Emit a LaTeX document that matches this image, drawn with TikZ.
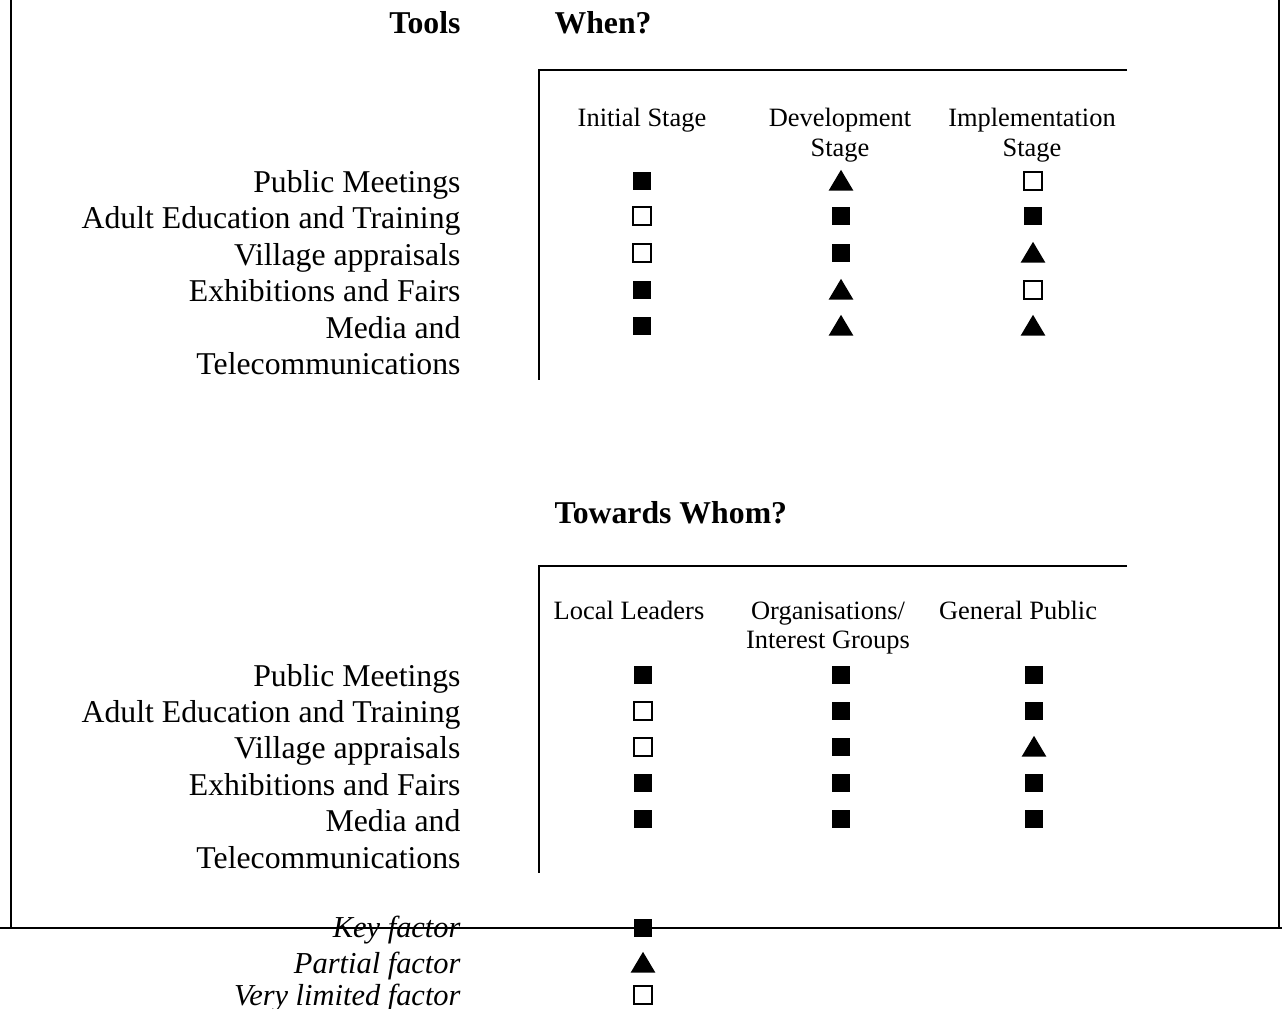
\documentclass[tikz,border=0pt]{standalone}
\usepackage{fontspec}
\setmainfont{Liberation Serif}
\usetikzlibrary{shapes.geometric}

\begin{document}
\begin{tikzpicture}[x=0.378pt, y=-0.378pt,
    partLabel/.style={anchor=east, inner sep=0pt, text height=8pt, text depth=2.6pt, font=\fontsize{12}{13.8}\selectfont},
    partTitle/.style={inner sep=0pt, font=\fontsize{12}{13.8}\selectfont\bfseries},
    partHead/.style={anchor=north, inner sep=0pt, align=center, font=\fontsize{10}{11.3}\selectfont},
    partKey/.style={partLabel, font=\fontsize{11.5}{13}\selectfont\itshape},
    partFull/.style={draw, fill=black, inner sep=0pt, minimum size=6.2pt},
    partLow/.style={draw, line width=0.8pt, inner sep=0pt, minimum size=6.6pt},
    partHalf/.style={isosceles triangle, isosceles triangle stretches, shape border rotate=90, fill=black, inner sep=0pt, minimum width=9.4pt, minimum height=7.9pt, yshift=-1pt},
    partLine/.style={line width=0.6pt}]

    \useasboundingbox (0,0) rectangle (1282,1008);

    % frame
    \draw[partLine] (11,0) -- (11,928);
    \draw[partLine] (1279,0) -- (1279,928);
    \draw[partLine] (0,928) -- (1282,928);

    % titles
    \node[partTitle, anchor=base east] (tools) at (461,33) {Tools};
    \node[partTitle, anchor=base west] (when) at (554,33) {When?};
    \node[partTitle, anchor=base west] (whom) at (554,523) {Towards Whom?};

    % upper table
    \draw[partLine] (1127,70) -- (539,70) -- (539,380);
    \node[partHead] (hInit) at (642,108) {Initial Stage};
    \node[partHead] (hDev) at (840,108) {Development\\Stage};
    \node[partHead] (hImpl) at (1032,108) {Implementation\\Stage};

    \node[partLabel] (uMeet) at (461,185) {Public Meetings};
    \node[partLabel] (uAdult) at (461,221) {Adult Education and Training};
    \node[partLabel] (uVill) at (461,258) {Village appraisals};
    \node[partLabel] (uExh) at (461,294) {Exhibitions and Fairs};
    \node[partLabel] (uMedia) at (461,331) {Media and};
    \node[partLabel] (uTele) at (461,367) {Telecommunications};

    \node[partFull] (u11) at (642,181) {};
    \node[partHalf] (u12) at (841,181) {};
    \node[partLow] (u13) at (1033,181) {};
    \node[partLow] (u21) at (642,216) {};
    \node[partFull] (u22) at (841,216) {};
    \node[partFull] (u23) at (1033,216) {};
    \node[partLow] (u31) at (642,253) {};
    \node[partFull] (u32) at (841,253) {};
    \node[partHalf] (u33) at (1033,253) {};
    \node[partFull] (u41) at (642,290) {};
    \node[partHalf] (u42) at (841,290) {};
    \node[partLow] (u43) at (1033,290) {};
    \node[partFull] (u51) at (642,326) {};
    \node[partHalf] (u52) at (841,326) {};
    \node[partHalf] (u53) at (1033,326) {};

    % lower table
    \draw[partLine] (1127,566) -- (539,566) -- (539,873);
    \node[partHead] (hLead) at (629,601) {Local Leaders};
    \node[partHead] (hOrg) at (828,601) {Organisations/\\Interest Groups};
    \node[partHead] (hGen) at (1018,601) {General Public};

    \node[partLabel] (lMeet) at (461,679) {Public Meetings};
    \node[partLabel] (lAdult) at (461,715) {Adult Education and Training};
    \node[partLabel] (lVill) at (461,751) {Village appraisals};
    \node[partLabel] (lExh) at (461,788) {Exhibitions and Fairs};
    \node[partLabel] (lMedia) at (461,824) {Media and};
    \node[partLabel] (lTele) at (461,861) {Telecommunications};

    \node[partFull] (l11) at (643,675) {};
    \node[partFull] (l12) at (841,675) {};
    \node[partFull] (l13) at (1034,675) {};
    \node[partLow] (l21) at (643,711) {};
    \node[partFull] (l22) at (841,711) {};
    \node[partFull] (l23) at (1034,711) {};
    \node[partLow] (l31) at (643,747) {};
    \node[partFull] (l32) at (841,747) {};
    \node[partHalf] (l33) at (1034,747) {};
    \node[partFull] (l41) at (643,783) {};
    \node[partFull] (l42) at (841,783) {};
    \node[partFull] (l43) at (1034,783) {};
    \node[partFull] (l51) at (643,819) {};
    \node[partFull] (l52) at (841,819) {};
    \node[partFull] (l53) at (1034,819) {};

    % key
    \node[partKey] (kFull) at (461,930) {Key factor};
    \node[partKey] (kHalf) at (461,966) {Partial factor};
    \node[partKey] (kLow) at (461,998) {Very limited factor};
    \node[partFull] (sFull) at (643,928) {};
    \node[partHalf] (sHalf) at (643,963) {};
    \node[partLow] (sLow) at (643,995) {};
\end{tikzpicture}
\end{document}
